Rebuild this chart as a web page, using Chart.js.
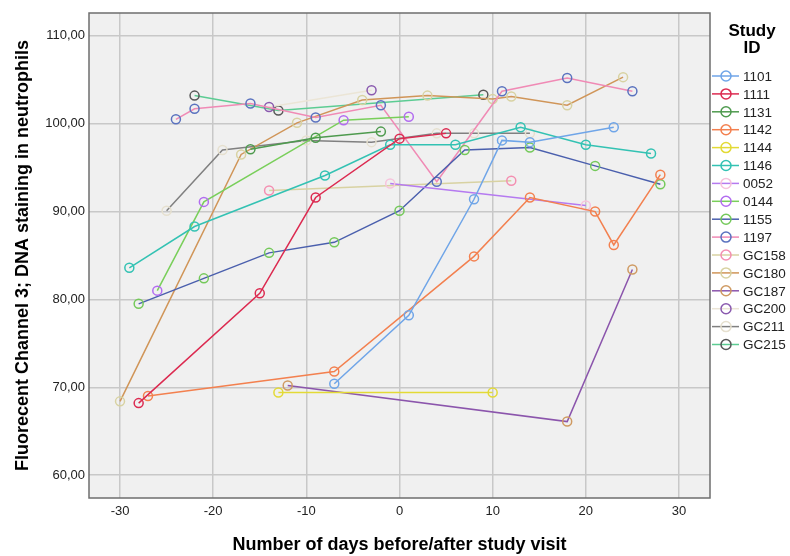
<!DOCTYPE html>
<html>
<head>
<meta charset="utf-8">
<script src="https://cdn.jsdelivr.net/npm/chart.js@4.4.0/dist/chart.umd.min.js"></script>
<style>
  html, body { margin: 0; padding: 0; background: #ffffff; }
  #wrap { width: 790px; height: 556px; position: relative; }
</style>
</head>
<body>
<div id="wrap"><canvas id="c" width="790" height="556"></canvas></div>
<script>
// ---- Data ----
const studyIds = ['1101','1111','1131','1142','1144','1146','0052','0144','1155','1197','GC158','GC180','GC187','GC200','GC211','GC215'];

const days1101 = [-7, 1, 8, 11, 14, 23];
const vals1101 = [70.4, 78.2, 91.4, 98.1, 97.9, 99.6];
const days1111 = [-28, -15, -9, 0, 5];
const vals1111 = [68.2, 80.7, 91.6, 98.3, 98.9];
const days1131 = [-16, -9, -2];
const vals1131 = [97.1, 98.4, 99.1];
const days1142 = [-27, -7, 8, 14, 21, 23, 28];
const vals1142 = [69.0, 71.8, 84.9, 91.6, 90.0, 86.2, 94.2];
const days1144 = [-13, 10];
const vals1144 = [69.4, 69.4];
const days1146 = [-29, -22, -8, -1, 6, 13, 20, 27];
const vals1146 = [83.6, 88.3, 94.1, 97.6, 97.6, 99.6, 97.6, 96.6];
const days0052 = [-1, 20];
const vals0052 = [93.2, 90.7];
const days0144 = [-26, -21, -6, 1];
const vals0144 = [81.0, 91.1, 100.4, 100.8];
const days1155 = [-28, -21, -14, -7, 0, 7, 14, 21, 28];
const vals1155 = [79.5, 82.4, 85.3, 86.5, 90.1, 97.0, 97.3, 95.2, 93.1];
const days1197 = [-24, -22, -16, -9, -2, 4, 11, 18, 25];
const vals1197 = [100.5, 101.7, 102.3, 100.7, 102.1, 93.4, 103.7, 105.2, 103.7];
const daysGC158 = [-14, 12];
const valsGC158 = [92.4, 93.5];
const daysGC180 = [-30, -17, -11, -4, 3, 10, 12, 18, 24];
const valsGC180 = [68.4, 96.5, 100.1, 102.7, 103.2, 102.8, 103.1, 102.1, 105.3];
const daysGC187 = [-12, 18, 25];
const valsGC187 = [70.2, 66.1, 83.4];
const daysGC200 = [-14, -3];
const valsGC200 = [101.9, 103.8];
const daysGC211 = [-25, -19, -10, -3, 4, 8, 14];
const valsGC211 = [90.1, 97.0, 98.1, 97.9, 98.9, 98.9, 98.9];
const daysGC215 = [-22, -13, 9];
const valsGC215 = [103.2, 101.5, 103.3];

const xTicks = [-30, -20, -10, 0, 10, 20, 30];
const yTicks = [60, 70, 80, 90, 100, 110];

// ---- Styles (line colour, marker colour) ----
const lineColors = ['#6fa5e8','#dc2a50','#4e9a4e','#f3804f','#e3da36','#33c2b3','#b57af0','#79cf5a','#4a5fad','#f08ab5','#d8d2a2','#d09558','#8b55ac','#ebe5d6','#808080','#5ccc93'];
const markerColors = ['#6fa5e8','#dc2a50','#4e9a4e','#f3804f','#e3da36','#33c2b3','#f7c3dc','#b26cf0','#74c95a','#5a72bf','#f48fb1','#d8d2a2','#cf9a62','#8a5aaf','#e6e0cf','#575757'];

const seriesDays = [days1101, days1111, days1131, days1142, days1144, days1146, days0052, days0144, days1155, days1197, daysGC158, daysGC180, daysGC187, daysGC200, daysGC211, daysGC215];
const seriesVals = [vals1101, vals1111, vals1131, vals1142, vals1144, vals1146, vals0052, vals0144, vals1155, vals1197, valsGC158, valsGC180, valsGC187, valsGC200, valsGC211, valsGC215];

const datasets = studyIds.map((id, i) => ({
  label: id,
  data: seriesDays[i].map((d, j) => ({ x: d, y: seriesVals[i][j] })),
  showLine: true,
  borderColor: lineColors[i],
  borderWidth: 1.5,
  pointRadius: 4.5,
  pointHoverRadius: 4.5,
  pointBorderWidth: 1.5,
  pointBorderColor: markerColors[i],
  pointBackgroundColor: 'rgba(0,0,0,0)',
  tension: 0
}));

const FONT = '"Liberation Sans", Arial, sans-serif';

const plotBg = {
  id: 'plotBg',
  beforeDraw(chart) {
    const { ctx, chartArea: a } = chart;
    ctx.save();
    ctx.fillStyle = '#f0f0f0';
    ctx.fillRect(a.left, a.top, a.right - a.left, a.bottom - a.top);
    ctx.restore();
  },
  afterDatasetsDraw(chart) {
    const { ctx, chartArea: a } = chart;
    ctx.save();
    ctx.strokeStyle = '#6e6e6e';
    ctx.lineWidth = 1.5;
    ctx.strokeRect(a.left, a.top, a.right - a.left, a.bottom - a.top);
    ctx.restore();
  }
};

const customLegend = {
  id: 'customLegend',
  afterDraw(chart) {
    const ctx = chart.ctx;
    ctx.save();
    ctx.fillStyle = '#000';
    ctx.font = 'bold 17px ' + FONT;
    ctx.textAlign = 'center';
    ctx.textBaseline = 'middle';
    ctx.fillText('Study', 752, 31);
    ctx.fillText('ID', 752, 48);
    ctx.font = '13.5px ' + FONT;
    ctx.textAlign = 'left';
    chart.data.datasets.forEach((ds, i) => {
      const y = 76 + i * 17.9;
      ctx.strokeStyle = ds.borderColor;
      ctx.lineWidth = 1.5;
      ctx.beginPath();
      ctx.moveTo(712, y);
      ctx.lineTo(739, y);
      ctx.stroke();
      ctx.strokeStyle = ds.pointBorderColor;
      ctx.beginPath();
      ctx.arc(726, y, 5, 0, Math.PI * 2);
      ctx.stroke();
      ctx.fillStyle = '#222';
      ctx.fillText(ds.label, 743, y + 1);
    });
    ctx.restore();
  }
};

new Chart(document.getElementById('c'), {
  type: 'scatter',
  data: { datasets },
  options: {
    responsive: false,
    animation: false,
    events: [],
    layout: { padding: { top: 13, right: 80, left: 0, bottom: 0 } },
    plugins: { legend: { display: false }, tooltip: { enabled: false } },
    scales: {
      x: {
        type: 'linear',
        min: -33.33, max: 33.33,
        afterFit: s => { s.height = 58; },
        afterBuildTicks: s => { s.ticks = xTicks.map(v => ({ value: v })); },
        grid: { color: '#c8c8c8', lineWidth: 1.5, drawTicks: false },
        border: { display: false },
        ticks: { color: '#222', font: { family: FONT, size: 13 }, padding: 6, maxRotation: 0 },
        title: { display: true, text: 'Number of days before/after study visit', color: '#000',
                 font: { family: FONT, size: 18, weight: 'bold' }, padding: { top: 0, bottom: 0 } }
      },
      y: {
        type: 'linear',
        min: 57.4, max: 112.6,
        afterFit: s => { s.width = 89; },
        afterBuildTicks: s => { s.ticks = yTicks.map(v => ({ value: v })); },
        grid: { color: '#c8c8c8', lineWidth: 1.5, drawTicks: false },
        border: { display: false },
        ticks: { color: '#222', font: { family: FONT, size: 13 }, padding: 4,
                 callback: v => v.toFixed(2).replace('.', ',') },
        title: { display: true, text: 'Fluorecent Channel 3; DNA staining in neutrophils', color: '#000',
                 font: { family: FONT, size: 18, weight: 'bold' }, padding: { top: 12, bottom: 0 } }
      }
    }
  },
  plugins: [plotBg, customLegend]
});
</script>
</body>
</html>
